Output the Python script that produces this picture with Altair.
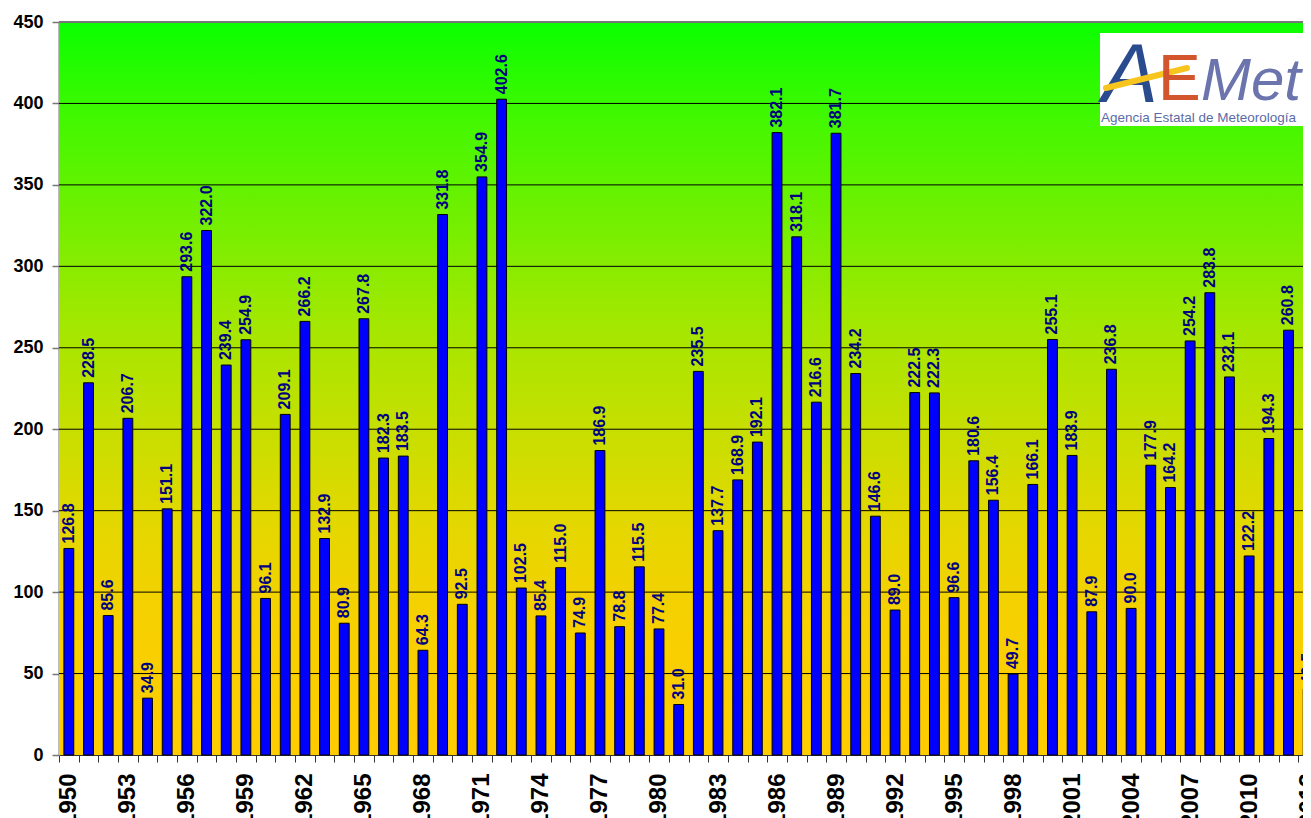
import altair as alt
import pandas as pd

years = [str(y) for y in range(1950, 2014)]
values = [126.8, 228.5, 85.6, 206.7, 34.9, 151.1, 293.6, 322.0, 239.4, 254.9,
          96.1, 209.1, 266.2, 132.9, 80.9, 267.8, 182.3, 183.5, 64.3, 331.8,
          92.5, 354.9, 402.6, 102.5, 85.4, 115.0, 74.9, 186.9, 78.8, 115.5,
          77.4, 31.0, 235.5, 137.7, 168.9, 192.1, 382.1, 318.1, 216.6, 381.7,
          234.2, 146.6, 89.0, 222.5, 222.3, 96.6, 180.6, 156.4, 49.7, 166.1,
          255.1, 183.9, 87.9, 236.8, 90.0, 177.9, 164.2, 254.2, 283.8, 232.1,
          122.2, 194.3, 260.8, 40.5]
y_ticks = [0, 50, 100, 150, 200, 250, 300, 350, 400, 450]
grid_values = [50, 100, 150, 200, 250, 300, 350, 400]

W_VIS = 1244   # svg-box plot width (page margin kept free)
W_FULL = 1259  # full band range
H = 733

FONT = "Liberation Sans"

df = pd.DataFrame({"year": years, "value": values})
grid_df = pd.DataFrame({"v": grid_values})
one = pd.DataFrame({"a": [0]})

xscale = alt.Scale(domain=years, range=[0, W_FULL], paddingInner=0, paddingOuter=0)
yscale = alt.Scale(domain=[0, 450], nice=False, zero=True)

x_axis = alt.Axis(
    title=None,
    labelExpr="(toNumber(datum.value) - 1950) % 3 == 0 ? datum.value : ''",
    labelAngle=270, labelFont=FONT, labelFontSize=24, labelFontWeight="bold",
    labelColor="black", labelPadding=11, labelOverlap=False,
    tickSize=7, tickBand="extent", tickColor="#333333", tickWidth=1,
    domainColor="#333333", domainWidth=1, grid=False,
)
y_axis = alt.Axis(
    title=None, values=y_ticks, labelFont=FONT, labelFontSize=18,
    labelFontWeight="bold", labelColor="black", labelPadding=9,
    tickSize=7, tickColor="#777777", tickWidth=1.5,
    domainColor="#777777", domainWidth=2, grid=False,
)

gradient = alt.LinearGradient(
    gradient="linear",
    stops=[
        alt.GradientStop(offset=0.0, color="#0aff00"),
        alt.GradientStop(offset=0.127, color="#40f800"),
        alt.GradientStop(offset=0.263, color="#70f000"),
        alt.GradientStop(offset=0.40, color="#a0e800"),
        alt.GradientStop(offset=0.536, color="#c2e000"),
        alt.GradientStop(offset=0.673, color="#e2d800"),
        alt.GradientStop(offset=0.81, color="#f6d000"),
        alt.GradientStop(offset=1.0, color="#ffcc00"),
    ],
    x1=0, x2=0, y1=0, y2=1,
)

bg = alt.Chart(one).mark_rect(color=gradient).encode(
    x=alt.value(0), x2=alt.value(W_FULL), y=alt.value(0), y2=alt.value(H)
)

grid = alt.Chart(grid_df).mark_rule(color="black", strokeWidth=1).encode(
    y=alt.Y("v:Q", scale=yscale, axis=y_axis),
    x=alt.value(0), x2=alt.value(W_FULL),
)

top_border = alt.Chart(one).mark_rule(color="#777777", strokeWidth=2).encode(
    y=alt.value(0), x=alt.value(0), x2=alt.value(W_FULL)
)

bars = alt.Chart(df).mark_bar(
    color="#0000ff", stroke="black", strokeWidth=1, width={"band": 0.5}
).encode(
    x=alt.X("year:N", scale=xscale, axis=x_axis),
    y=alt.Y("value:Q", scale=yscale, axis=y_axis),
)

labels = alt.Chart(df).mark_text(
    angle=270, align="left", baseline="middle", font=FONT, fontSize=16,
    fontWeight="bold", color="#000080", yOffset=-5,
).encode(
    x=alt.X("year:N", scale=xscale, axis=x_axis),
    y=alt.Y("value:Q", scale=yscale, axis=y_axis),
    text=alt.Text("value:Q", format=".1f"),
)

logo_box = alt.Chart(one).mark_rect(fill="white").encode(
    x=alt.value(1041), x2=alt.value(1247), y=alt.value(11), y2=alt.value(104)
)
logo_a = alt.Chart(one).mark_text(
    text="A", font=FONT, fontSize=84, color="#2b4b8f", align="left",
    baseline="alphabetic", fontStyle="italic",
).encode(x=alt.value(1043), y=alt.value(80))
swoosh = alt.Chart(one).mark_rule(
    color="#f7c51e", strokeWidth=6, strokeCap="round"
).encode(x=alt.value(1047), y=alt.value(66), x2=alt.value(1128), y2=alt.value(46))
logo_e = alt.Chart(one).mark_text(
    text="E", font=FONT, fontSize=64, color="#d2552d", align="left",
    baseline="alphabetic",
).encode(x=alt.value(1099), y=alt.value(78))
logo_met = alt.Chart(one).mark_text(
    text="Met", font=FONT, fontSize=60, color="#6b74ad", align="left",
    baseline="alphabetic", fontStyle="italic",
).encode(x=alt.value(1142), y=alt.value(78))
logo_sub = alt.Chart(one).mark_text(
    text="Agencia Estatal de Meteorología", font=FONT, fontSize=13.5,
    color="#5b6ba6", align="left", baseline="alphabetic",
).encode(x=alt.value(1042), y=alt.value(100))

chart = alt.layer(
    bg, grid, top_border, bars, labels,
    logo_box, logo_a, swoosh, logo_e, logo_met, logo_sub,
).properties(
    width=W_VIS, height=H,
    padding={"left": 51, "top": 14, "right": 0, "bottom": 63},
    autosize=alt.AutoSizeParams(type="none"),
).configure_view(strokeWidth=0).configure(background="white")

chart.save("out.html", embed_options={"renderer": "svg", "actions": False})
